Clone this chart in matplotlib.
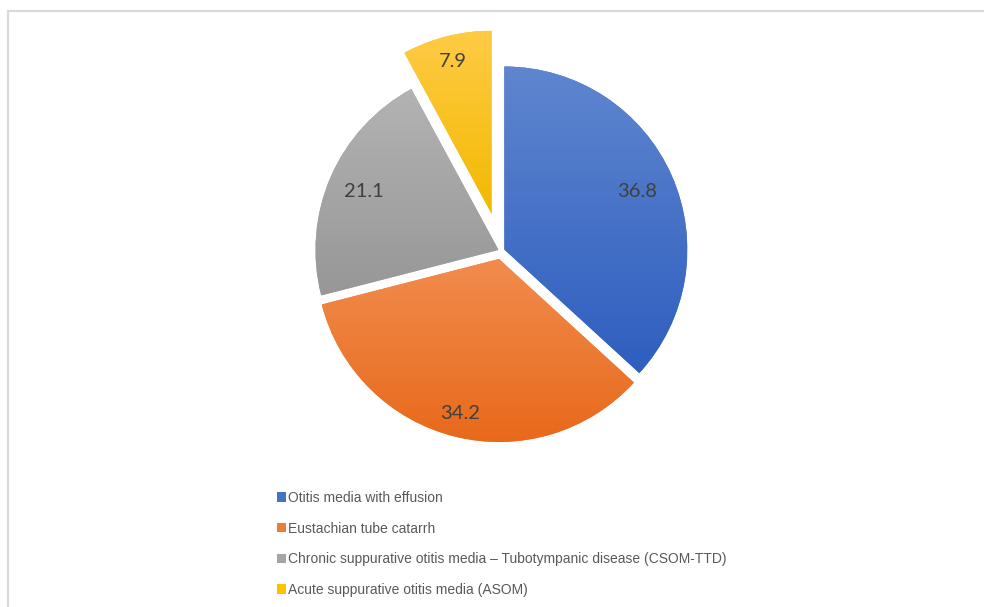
import numpy as np
import matplotlib.pyplot as plt
from matplotlib.patches import Rectangle
from matplotlib.colors import LinearSegmentedColormap

plt.rcParams['font.family'] = ['Liberation Sans', 'DejaVu Sans']

categories = ['Otitis media with effusion',
              'Eustachian tube catarrh',
              'Chronic suppurative otitis media \u2013 Tubotympanic disease (CSOM-TTD)',
              'Acute suppurative otitis media (ASOM)']
values = [36.8, 34.2, 21.1, 7.9]
base_colors = ['#4472C4', '#ED7D31', '#A5A5A5', '#FFC000']
# gradient ends (top, bottom) for the Excel-like fill
grad_top = ['#5F86CF', '#F18C4E', '#B3B3B3', '#FFCB45']
grad_bottom = ['#2E5EBF', '#E8691A', '#979797', '#F2B900']
explode = [0.02, 0.045, 0.015, 0.21]
label_dist = [0.79, 0.87, 0.8, 0.86]

W, H = 984, 607
fig = plt.figure(figsize=(W / 100, H / 100), dpi=100)

# chart area border
fig.patches.append(Rectangle((8 / W, -0.1), 1.2, 1 - 11 / H + 0.1, transform=fig.transFigure,
                             fill=False, edgecolor='#D9D9D9', linewidth=1.6))

cx, cy, R = 501, 251, 183
half = 1.3 * R
ax = fig.add_axes([(cx - half) / W, (H - cy - half) / H, 2 * half / W, 2 * half / H])

wedges, _ = ax.pie(values, colors=base_colors, startangle=90, counterclock=False,
                   explode=explode, radius=1)
ax.set_aspect('equal')
ax.axis('off')

grad = np.linspace(0, 1, 256).reshape(-1, 1)
for i, w in enumerate(wedges):
    ext = w.get_path().get_extents()
    cmap = LinearSegmentedColormap.from_list('g%d' % i, [grad_bottom[i], grad_top[i]])
    im = ax.imshow(grad, cmap=cmap, origin='lower', aspect='auto',
                   extent=[ext.x0, ext.x1, ext.y0, ext.y1], zorder=w.get_zorder() + 0.1)
    im.set_clip_path(w)
    w.set_edgecolor('none')

    mid = np.deg2rad((w.theta1 + w.theta2) / 2)
    x0, y0 = w.center
    ax.text(x0 + label_dist[i] * w.r * np.cos(mid), y0 + label_dist[i] * w.r * np.sin(mid),
            f'{values[i]}', ha='center', va='center', fontsize=14.5,
            color='#404040', family=['Lato', 'DejaVu Sans'], zorder=5)

ax.set_xlim(-1.3, 1.3)
ax.set_ylim(-1.3, 1.3)

handles = [Rectangle((0, 0), 1, 1, facecolor=c) for c in base_colors]
fig.legend(handles, categories, loc='upper left', bbox_to_anchor=(277 / W, 1 - 491 / H),
           frameon=False, fontsize=10, handlelength=0.65, handleheight=0.65,
           handletextpad=0.15, labelspacing=1.2, borderpad=0, borderaxespad=0,
           labelcolor='#595959')

fig.savefig('out.png', dpi=100, facecolor='white')
